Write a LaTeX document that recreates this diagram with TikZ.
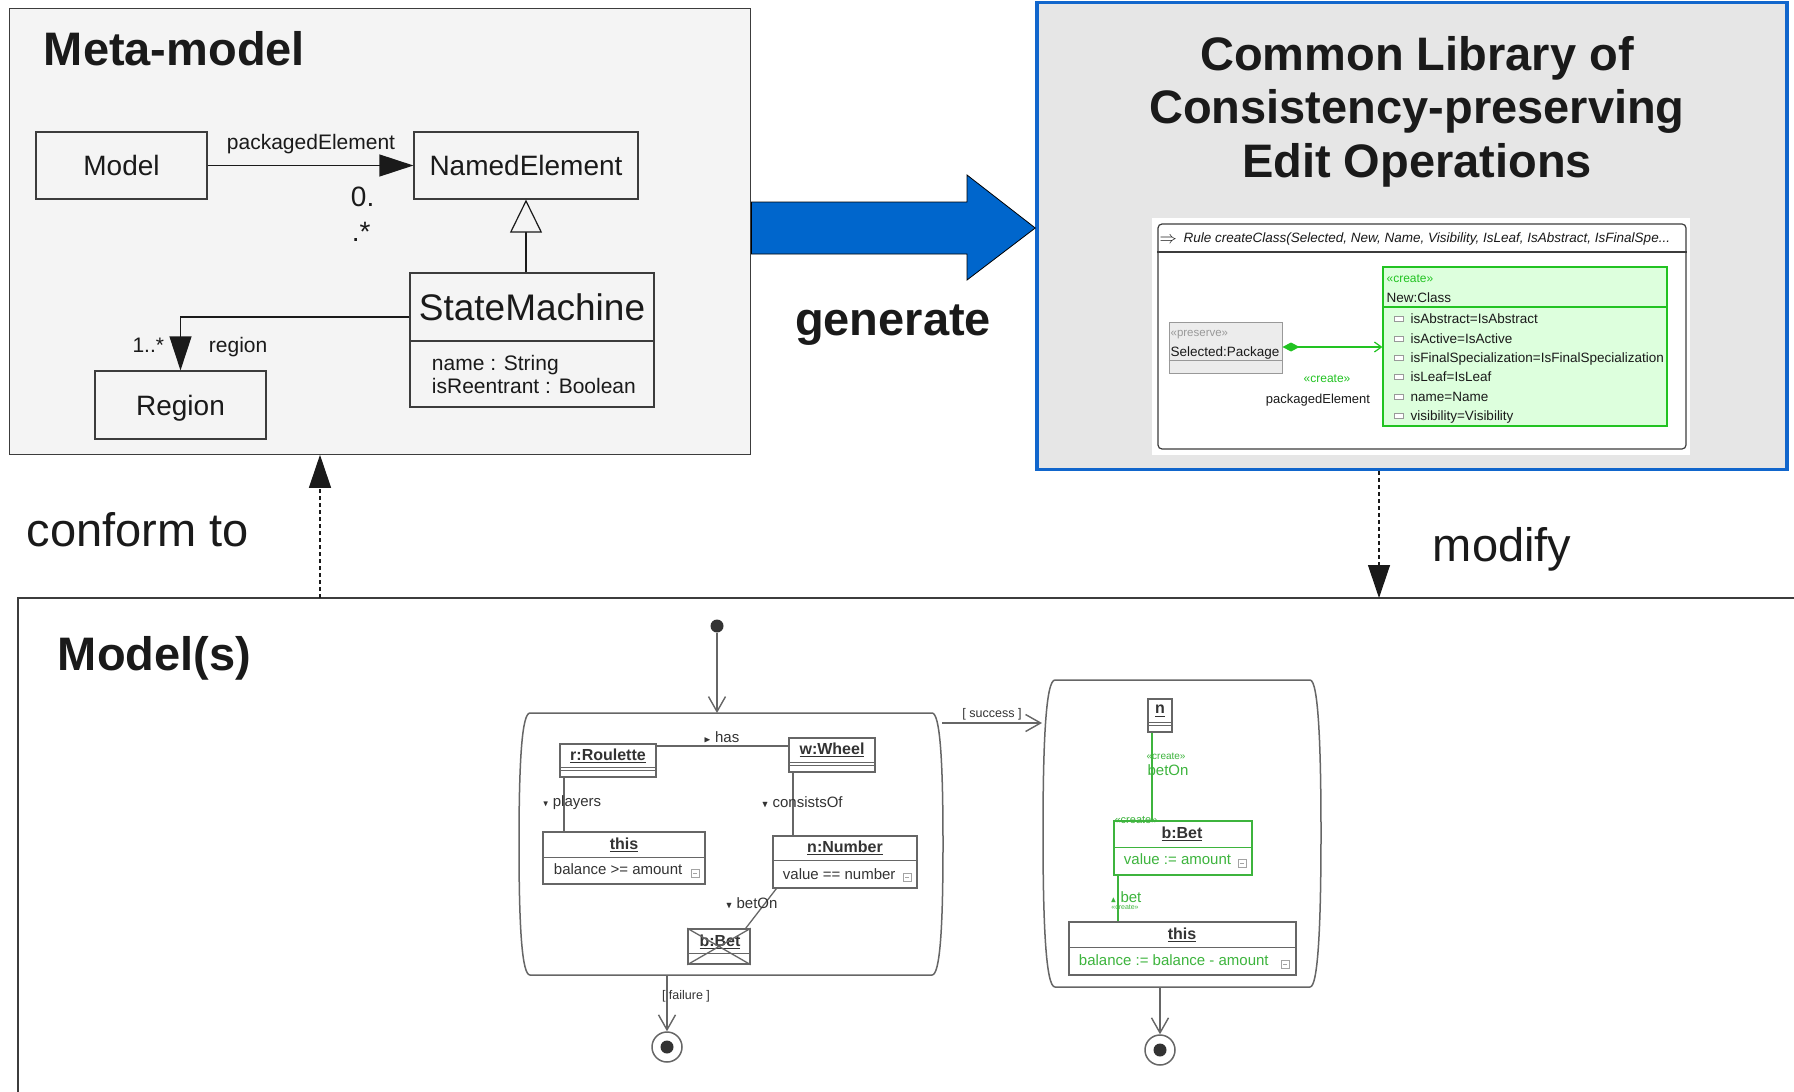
\documentclass[tikz,border=0pt]{standalone}
\usepackage{fontspec}
\usepackage{amssymb}
\setmainfont{Liberation Sans}
\usetikzlibrary{arrows.meta}
\definecolor{ink}{HTML}{1A1A1A}
\definecolor{metafill}{HTML}{F4F4F4}
\definecolor{libfill}{HTML}{E6E6E6}
\definecolor{libblue}{HTML}{1166CC}
\definecolor{genblue}{HTML}{0066CC}
\definecolor{shotline}{HTML}{666666}
\definecolor{shotink}{HTML}{333333}
\definecolor{shotgreen}{HTML}{3DB43D}
\definecolor{hgreen}{HTML}{22C322}
\definecolor{hgreenfill}{HTML}{DDFFDD}
\definecolor{hgray}{HTML}{999999}
\definecolor{hgrayfill}{HTML}{ECECEC}
\newcommand{\pxfont}[1]{\fontsize{#1}{#1}\selectfont}
\begin{document}
\begin{tikzpicture}[
    x=1pt, y=-1pt, line width=1.2pt, color=ink,
    cls/.style={draw=ink!85, inner sep=0pt, font=\pxfont{28}, text height=20pt, text depth=0pt},
    assoc/.style={draw=ink, -{Triangle[length=34pt,width=22pt]}},
    gen/.style={draw=ink, -{Triangle[open,length=33pt,width=32pt,fill=metafill]}},
    dep/.style={draw=ink, dash pattern=on 4pt off 3pt, -{Triangle[length=33pt,width=22pt]}},
    heading/.style={font=\pxfont{47}\bfseries, anchor=base},
    bigtext/.style={font=\pxfont{47}, anchor=base west},
    umltext/.style={font=\pxfont{21}},
    genarr/.style={fill=genblue, draw=black, line width=0.8pt},
    hbox/.style={inner sep=0pt, line width=1pt},
    htext/.style={anchor=base west, font=\pxfont{13.5}},
    hicon/.style={draw=hgray, fill=white, line width=0.8pt},
    act/.style={draw=shotline, line width=1.5pt},
    objbox/.style={draw=shotline, fill=white, inner sep=0pt, line width=1.4pt},
    objname/.style={font=\pxfont{16}\bfseries, text=shotink},
    objattr/.style={font=\pxfont{15}, text=shotink, anchor=west},
    lbl/.style={font=\pxfont{15}, text=shotink, anchor=west},
    guard/.style={font=\pxfont{12.5}, text=shotink},
    link/.style={draw=shotline, line width=1.3pt},
    glink/.style={draw=shotgreen, line width=1.3pt},
    flow/.style={draw=shotline, line width=1.4pt, -{Straight Barb[length=15pt,width=17pt]}},
    initnode/.style={circle, fill=shotink, minimum size=13pt, inner sep=0pt},
    finalnode/.style={circle, draw=shotline, line width=1.5pt, minimum size=30pt, inner sep=0pt,
        path picture={\fill[shotink] (path picture bounding box.center) circle (6.5pt);}},
    icon/.style={draw=shotline!60, line width=0.8pt}
]
    \fill[white] (0,0) rectangle (1794,1092);
    \useasboundingbox (0,0) rectangle (1794,1092);

    % meta-model
    \node[draw=ink!85, fill=metafill, minimum width=741pt, minimum height=446pt, inner sep=0pt] (meta) at (380.3,231.2) {};
    \node[font=\pxfont{47}\bfseries, anchor=base west] (metatitle) at (40,65) {Meta-model};
    \node[cls, minimum width=171pt, minimum height=67pt] (model) at (121.5,165.5) {Model};
    \node[cls, minimum width=224pt, minimum height=67pt] (named) at (526,165.5) {NamedElement};
    \node[cls, minimum width=171pt, minimum height=68pt] (region) at (180.5,405) {Region};
    \node[cls, minimum width=244pt, minimum height=68pt, font=\pxfont{37}, text height=27pt] (sm) at (532,307) {StateMachine};
    \node[cls, minimum width=244pt, minimum height=66pt] (smattr) at (532,374) {};
    \node[umltext, anchor=base west] (smname) at (428,370) {name : String};
    \node[umltext, anchor=base west] (smreent) at (428,393) {isReentrant : Boolean};
    \draw[assoc] (model) -- (named);
    \node[umltext] (pelabel) at (311,144) {packagedElement};
    \node[font=\pxfont{28}, anchor=base west] (pemult1) at (347,206) {0.};
    \node[font=\pxfont{28}, anchor=base west] (pemult2) at (348,241) {.*};
    \draw[gen] (sm.north -| named.south) -- (named.south);
    \draw[assoc] ([yshift=-10pt]sm.west) -| (region.north);
    \node[umltext, anchor=base east] (regmult) at (168,352) {1..*};
    \node[umltext, anchor=base west] (reglabel) at (205,352) {region};

    % library of edit operations
    \node[draw=libblue, line width=3.5pt, fill=libfill, minimum width=750pt, minimum height=467pt, inner sep=0pt] (lib) at (1412,236) {};
    \node[heading] (libt1) at (1417,70) {Common Library of};
    \node[heading] (libt2) at (1417,123) {Consistency-preserving};
    \node[heading] (libt3) at (1417,177) {Edit Operations};

    % henshin rule
    \node[fill=white, minimum width=538pt, minimum height=237pt, inner sep=0pt] (shot) at (1421,336.5) {};
    \node[draw=ink!85, rounded corners=4pt, minimum width=528pt, minimum height=225pt, inner sep=0pt] (rule) at (1422,336.5) {};
    \draw[ink!85] (rule.west |- 0,252) -- (rule.east |- 0,252);
    \node[anchor=base west, font=\pxfont{19}, inner sep=0pt] (rulearrow) at (1159,243) {$\Rightarrow$};
    \node[anchor=base west, font=\pxfont{13.5}\itshape, inner sep=0pt] (ruletitle) at (1183,242) {Rule createClass(Selected, New, Name, Visibility, IsLeaf, IsAbstract, IsFinalSpe...};
    \node[hbox, draw=hgray, fill=hgrayfill, minimum width=113pt, minimum height=51pt] (sel) at (1225.5,347.5) {};
    \draw[hgray, line width=1pt] (sel.west |- 0,360) -- (sel.east |- 0,360);
    \node[htext, font=\pxfont{11.5}, text=hgray, inner sep=0pt] (selst) at (1170,336) {«preserve»};
    \node[htext, inner sep=0pt] (selname) at (1170,356) {Selected:Package};
    \node[hbox, draw=hgreen, line width=1.2pt, fill=hgreenfill, minimum width=284pt, minimum height=159pt] (newcls) at (1525,346.5) {};
    \draw[hgreen, line width=1.2pt] (newcls.west |- 0,307) -- (newcls.east |- 0,307);
    \node[htext, font=\pxfont{12}, text=hgreen, inner sep=0pt] (clsst) at (1386,282) {«create»};
    \node[htext, inner sep=0pt] (clsname) at (1386,302) {New:Class};
    \draw[hicon] (1394,316) rectangle (1403,321);
    \draw[hicon] (1394,336) rectangle (1403,341);
    \draw[hicon] (1394,355) rectangle (1403,360);
    \draw[hicon] (1394,374) rectangle (1403,379);
    \draw[hicon] (1394,394) rectangle (1403,399);
    \draw[hicon] (1394,413) rectangle (1403,418);
    \node[htext, inner sep=0pt] (at1) at (1410,323) {isAbstract=IsAbstract};
    \node[htext, inner sep=0pt] (at2) at (1410,343) {isActive=IsActive};
    \node[htext, inner sep=0pt] (at3) at (1410,362) {isFinalSpecialization=IsFinalSpecialization};
    \node[htext, inner sep=0pt] (at4) at (1410,381) {isLeaf=IsLeaf};
    \node[htext, inner sep=0pt] (at5) at (1410,401) {name=Name};
    \node[htext, inner sep=0pt] (at6) at (1410,420) {visibility=Visibility};
    \draw[hgreen, fill=hgreen, {Diamond[length=17pt,width=9pt]}-{Straight Barb[length=7pt,width=10pt]}] (sel.east |- 0,347) -- (newcls.west |- 0,347);
    \node[font=\pxfont{12}, text=hgreen, anchor=base] (pest) at (1327,382) {«create»};
    \node[font=\pxfont{13}, anchor=base] (pename) at (1318,403) {packagedElement};

    % generate
    \draw[genarr] (meta.east |- 0,202) -- (967,202) -- (967,175) -- (lib.west |- 0,228)
        -- (967,280) -- (967,254) -- (meta.east |- 0,254) -- cycle;
    \node[heading] (genlabel) at (893,335) {generate};

    % model(s)
    \coordinate (modelsnw) at (18,598);
    \draw[ink!85] (18,1092) -- (modelsnw) -- (1794,598);
    \node[font=\pxfont{47}\bfseries, anchor=base west] (modelstitle) at (54,670) {Model(s)};
    \coordinate (conftail) at (320,598);
    \draw[dep] (conftail) -- (conftail |- meta.south);
    \node[bigtext] (conflabel) at (23,546) {conform to};
    \coordinate (modtip) at (1379,598);
    \draw[dep] (modtip |- lib.south) -- (modtip);
    \node[bigtext] (modlabel) at (1429,561) {modify};

    % activity: check the bet
    \node[initnode] (init) at (717,626) {};
    \draw[act] (530,713) -- (932,713) .. controls (940,713) and (943,760) .. (943,844)
        .. controls (943,928) and (940,975) .. (932,975) -- (530,975)
        .. controls (522,975) and (519,928) .. (519,844) .. controls (519,760) and (522,713) .. cycle;
    \coordinate (act1top) at (717,713);
    \draw[flow] (init) -- (act1top);

    \node[objbox, minimum width=96pt, minimum height=33pt] (roul) at (608,760.5) {};
    \draw[shotline, line width=0.8pt] (560,767) -- (656,767) (560,770) -- (656,770);
    \node[objname] (roulname) at (608,756) {\underline{r:Roulette}};
    \node[objbox, minimum width=86pt, minimum height=34pt] (wheel) at (832,755) {};
    \draw[shotline, line width=0.8pt] (789,762) -- (875,762) (789,765) -- (875,765);
    \node[objname] (wheelname) at (832,750) {\underline{w:Wheel}};
    \node[objbox, minimum width=162pt, minimum height=52pt] (this1) at (624,858) {};
    \draw[shotline, line width=0.8pt] (543,857) -- (705,857);
    \node[objname] (this1name) at (624,845) {\underline{this}};
    \node[objattr] (this1attr) at (550,869) {balance >= amount};
    \draw[icon] (691,869) rectangle (699,877) (693,873) -- (697,873);
    \node[objbox, minimum width=144pt, minimum height=52pt] (num) at (845,862) {};
    \draw[shotline, line width=0.8pt] (773,860) -- (917,860);
    \node[objname] (numname) at (845,848) {\underline{n:Number}};
    \node[objattr] (numattr) at (779,874) {value == number};
    \draw[icon] (903,873) rectangle (911,881) (905,877) -- (909,877);
    \node[objbox, minimum width=62pt, minimum height=35pt] (bet1) at (719,946.5) {};
    \draw[shotline, line width=0.8pt] (688,953) -- (750,953);
    \node[objname] (bet1name) at (720,942) {\underline{b:Bet}};
    \draw[link] (bet1.north west) -- (bet1.south east) (bet1.north east) -- (bet1.south west);

    \draw[link] (roul.east |- 0,746) -- (wheel.west |- 0,746);
    \node[lbl] (haslbl) at (700,737) {{\pxfont{9}$\blacktriangleright$} has};
    \draw[link] (roul.south -| 564,0) -- (this1.north -| 564,0);
    \node[lbl] (playlbl) at (539,803) {{\pxfont{8}$\blacktriangledown$} players};
    \draw[link] (wheel.south -| 793,0) -- (num.north -| 793,0);
    \node[lbl] (conslbl) at (758,802) {{\pxfont{9}$\blacktriangledown$} consistsOf};
    \draw[link] ([xshift=4pt]num.south west) -- ([xshift=-5pt]bet1.north east);
    \node[lbl] (betonlbl) at (722,903) {{\pxfont{9}$\blacktriangledown$} betOn};

    \node[finalnode] (final1) at (667,1047) {};
    \coordinate (act1bot) at (667,975);
    \draw[flow] (act1bot) -- (final1);
    \node[guard] (faillbl) at (686,996) {[ failure ]};

    \coordinate (act1succ) at (942,723);
    \coordinate (act2succ) at (1042,723);
    \draw[flow] (act1succ) -- (act2succ);
    \node[guard] (succlbl) at (992,714) {[ success ]};

    % activity: place the bet
    \draw[act] (1055,680) -- (1310,680) .. controls (1318,680) and (1321,740) .. (1321,833)
        .. controls (1321,926) and (1318,987) .. (1310,987) -- (1055,987)
        .. controls (1046,987) and (1043,926) .. (1043,833) .. controls (1043,740) and (1046,680) .. cycle;
    \node[objbox, minimum width=24pt, minimum height=33pt] (nbox) at (1160,715.5) {};
    \draw[shotline, line width=0.8pt] (1148,722) -- (1172,722) (1148,725) -- (1172,725);
    \node[objname] (nname) at (1160,711) {\underline{n}};
    \node[objbox, draw=shotgreen, minimum width=138pt, minimum height=54pt] (bet2) at (1183,848) {};
    \draw[shotgreen, line width=0.8pt] (1114,847) -- (1252,847);
    \node[font=\pxfont{11}, text=shotgreen, anchor=west, inner sep=0pt] (bet2st) at (1114,820) {«create»};
    \node[objname] (bet2name) at (1182,834) {\underline{b:Bet}};
    \node[objattr, text=shotgreen] (bet2attr) at (1120,859) {value := amount};
    \draw[icon] (1238,859) rectangle (1246,867) (1240,863) -- (1244,863);
    \node[objbox, minimum width=227pt, minimum height=53pt] (this2) at (1182.5,948.5) {};
    \draw[shotline, line width=0.8pt] (1069,947) -- (1296,947);
    \node[objname] (this2name) at (1182,935) {\underline{this}};
    \node[objattr, text=shotgreen] (this2attr) at (1075,960) {balance := balance - amount};
    \draw[icon] (1281,960) rectangle (1289,968) (1283,964) -- (1287,964);

    \draw[glink] (nbox.south -| 1152,0) -- (bet2.north -| 1152,0);
    \node[font=\pxfont{10}, text=shotgreen, anchor=west, inner sep=0pt] (betonst) at (1146,756) {«create»};
    \node[lbl, text=shotgreen, inner sep=0pt] (betonglbl) at (1147,770) {betOn};
    \draw[glink] (bet2.south -| 1118,0) -- (this2.north -| 1118,0);
    \node[lbl, text=shotgreen, inner sep=0pt] (betlbl) at (1110,897) {{\pxfont{8}$\blacktriangle$} bet};
    \node[font=\pxfont{7}, text=shotgreen, inner sep=0pt] (betst) at (1125,907) {«create»};

    \node[finalnode] (final2) at (1160,1050) {};
    \coordinate (act2bot) at (1160,987);
    \draw[flow] (act2bot) -- (final2);
\end{tikzpicture}
\end{document}
